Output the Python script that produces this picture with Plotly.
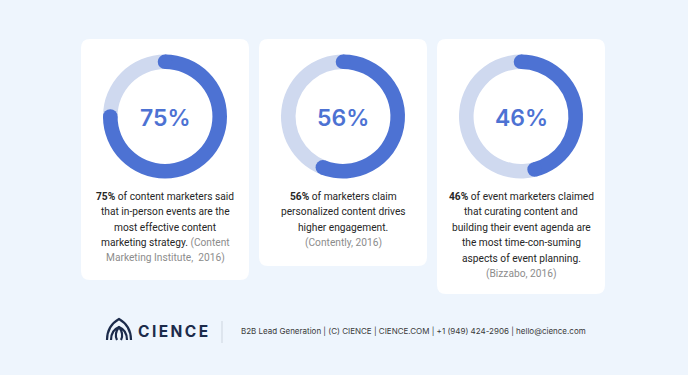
import math
import plotly.graph_objects as go

W, H = 688, 375

# ---- data ----
percent_values = [75, 56, 46]
percent_labels = ["75%", "56%", "46%"]
stat_lines = [
    [("<b>75%</b> of content marketers said", "main"),
     ("that in-person events are the", "main"),
     ("most effective content", "main"),
     ("marketing strategy. <span style='color:#8c8c8c'>(Content</span>", "main"),
     ("Marketing Institute,  2016)", "src")],
    [("<b>56%</b> of marketers claim", "main"),
     ("personalized content drives", "main"),
     ("higher engagement.", "main"),
     ("(Contently, 2016)", "src")],
    [("<b>46%</b> of event marketers claimed", "main"),
     ("that curating content and", "main"),
     ("building their event agenda are", "main"),
     ("the most time-con-suming", "main"),
     ("aspects of event planning.", "main"),
     ("(Bizzabo, 2016)", "src")],
]
footer_brand = "CIENCE"
footer_text = "B2B Lead Generation | (C) CIENCE | CIENCE.COM | +1 (949) 424-2906 | hello@cience.com"

# ---- style ----
BG = "#eef5fd"
BLUE = "#4d72d3"
LIGHT = "#cfd9ef"
TXT = "#262626"
SRC = "#8c8c8c"
NAVY = "#1c2b4b"
FONT = "Inter"
BODY_FONT = "Roboto"

card_left = [81, 259, 437]
card_w = 168
card_top = 39
card_bottom = [280, 266, 294]
ring_cy = 116.5
ring_R = 62
hole = 0.765
line0 = 196
line_gap = 15.5

fig = go.Figure()
shapes = []
annotations = []


def rrect(x0, y0, x1, y1, r):
    return (f"M {x0+r},{y0} L {x1-r},{y0} Q {x1},{y0} {x1},{y0+r} "
            f"L {x1},{y1-r} Q {x1},{y1} {x1-r},{y1} L {x0+r},{y1} "
            f"Q {x0},{y1} {x0},{y1-r} L {x0},{y0+r} Q {x0},{y0} {x0+r},{y0} Z")


for i, v in enumerate(percent_values):
    x0 = card_left[i]
    cx = x0 + card_w / 2
    shapes.append(dict(type="path", path=rrect(x0, card_top, x0 + card_w, card_bottom[i], 9),
                       xref="x", yref="y", fillcolor="white", line=dict(width=0), layer="below"))
    fig.add_trace(go.Pie(
        values=[v, 100 - v], marker=dict(colors=[BLUE, LIGHT], line=dict(width=0)),
        hole=hole, sort=False, direction="clockwise", rotation=0,
        textinfo="none", hoverinfo="skip", showlegend=False,
        domain=dict(x=[(cx - ring_R) / W, (cx + ring_R) / W],
                    y=[1 - (ring_cy + ring_R) / H, 1 - (ring_cy - ring_R) / H]),
    ))
    # round caps
    rm = ring_R * (1 + hole) / 2
    rc = ring_R * (1 - hole) / 2
    for ang in (0.0, v * 3.6):
        a = math.radians(ang)
        px = cx + rm * math.sin(a)
        py = ring_cy - rm * math.cos(a)
        shapes.append(dict(type="circle", xref="x", yref="y",
                           x0=px - rc, x1=px + rc, y0=py - rc, y1=py + rc,
                           fillcolor=BLUE, line=dict(width=0), layer="above"))
    annotations.append(dict(x=cx, y=ring_cy + 1, xref="x", yref="y", text=percent_labels[i],
                            showarrow=False, xanchor="center", yanchor="middle",
                            font=dict(family=FONT, size=23, color=BLUE, weight=600)))
    for j, (t, kind) in enumerate(stat_lines[i]):
        annotations.append(dict(x=cx, y=line0 + j * line_gap, xref="x", yref="y", text=t,
                                showarrow=False, xanchor="center", yanchor="middle",
                                font=dict(family=BODY_FONT, size=10.2, color=TXT if kind == "main" else SRC)))

# footer
logo_outer = "M 107,340 C 107,330 112,323 119,319 C 126,323 131,330 131,340"
logo_inner = "M 111,340 C 111,333 114,329 119,327 C 124,329 127,333 127,340 M 119,327 C 116,331 115,336 117,340 M 119,327 C 122,331 123,336 121,340"
for p in (logo_outer, logo_inner):
    shapes.append(dict(type="path", path=p, xref="x", yref="y",
                       line=dict(color=NAVY, width=2.2), layer="above"))
shapes.append(dict(type="line", xref="x", yref="y", x0=222, x1=222, y0=321, y1=343,
                   line=dict(color="#cdd5df", width=1)))
annotations.append(dict(x=136, y=331, xref="x", yref="y", text="<b>" + "\u2009".join(footer_brand) + "</b>",
                        showarrow=False, xanchor="left", yanchor="middle",
                        font=dict(family=FONT, size=15.5, color=NAVY)))
annotations.append(dict(x=239, y=331, xref="x", yref="y", text=footer_text,
                        showarrow=False, xanchor="left", yanchor="middle",
                        font=dict(family=FONT, size=8, color="#3a3a3a")))

fig.update_layout(
    width=W, height=H, margin=dict(l=0, r=0, t=0, b=0),
    paper_bgcolor=BG, plot_bgcolor="rgba(0,0,0,0)",
    xaxis=dict(range=[0, W], visible=False, fixedrange=True, domain=[0, 1]),
    yaxis=dict(range=[H, 0], visible=False, fixedrange=True, domain=[0, 1]),
    shapes=shapes, annotations=annotations, showlegend=False,
)
fig.write_html("out.html", config={"displayModeBar": False},
               post_script="document.body.style.margin='0';document.body.style.background='#eef5fd';")
